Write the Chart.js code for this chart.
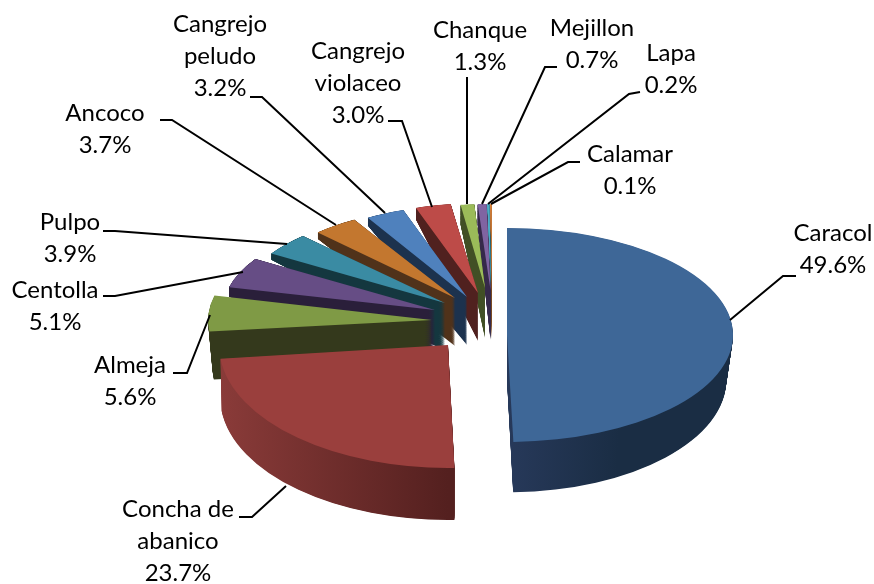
<!DOCTYPE html>
<html>
<head>
<meta charset="utf-8">
<title>Pie 3D</title>
<script src="https://cdn.jsdelivr.net/npm/chart.js@4"></script>
<style>
  html, body { margin: 0; padding: 0; background: #fff; }
  canvas { display: block; }
</style>
</head>
<body>
<canvas id="pieChart" width="874" height="584"></canvas>
<script>
// data
const categories = ["Caracol", "Concha de abanico", "Almeja", "Centolla", "Pulpo", "Ancoco",
    "Cangrejo peludo", "Cangrejo violaceo", "Chanque", "Mejillon", "Lapa", "Calamar"];
const values = [49.6, 23.7, 5.6, 5.1, 3.9, 3.7, 3.2, 3.0, 1.3, 0.7, 0.2, 0.1];

const topColors = ["#3E6797", "#9A3F3D", "#7F9A45", "#664D85", "#3A8BA3", "#C3772F",
    "#4F81BD", "#BD4B48", "#9BBB59", "#8064A2", "#4BACC6", "#F79646"];
const sideColors = [["#27395A", "#1A2D44"], ["#8A3B39", "#54201F"], ["#34391C", "#34391C"], ["#2A1F3A", "#2A1F3A"],
    ["#14373F", "#14373F"], ["#50321A", "#50321A"], ["#1C324E", "#1C324E"], ["#50211F", "#50211F"],
    ["#414F25", "#414F25"], ["#36294A", "#36294A"], ["#1E4A55", "#1E4A55"], ["#7A4A22", "#7A4A22"]];

// how the 3D view is faked: shift from chart centre, radii, depth and how depth changes over the slice
//                 dx, dy,  rx,  ry,  d,  kx,  ky, shrink, gradient from/to (in radius units)
const sliceView = [
    [ 70, 43, 226, 107, 45, 0, 0.05, 0.97, 0, 0.5],
    [ 11, 53, 229, 123, 52, 0, 0, 0.995, -1, 0],
    [ -5, 28, 224, 103, 48, 0, 0, 0.98, -1, 1],
    [ -2, 18, 212, 96, 48, 0.15, 0.32, 1, -1, 1],
    [  8, 11, 205, 93, 48, 0.15, 0.32, 1, -1, 1],
    [ 18,  6, 198, 91, 48, 0.15, 0.32, 1, -1, 1],
    [ 30,  5, 195, 92, 48, 0.15, 0.32, 1, -1, 1],
    [ 41,  1, 190, 90, 48, 0.15, 0.32, 1, -1, 1],
    [ 48, -4, 170, 84, 50, 0.15, 0.32, 1, -1, 1],
    [ 53.5, -2, 204, 86, 50, 0.15, 0.32, 1, -1, 1],
    [ 54, -2, 220, 86, 50, 0.15, 0.32, 1, -1, 1],
    [ 54.6, -2, 220, 86, 50, 0.15, 0.32, 1, -1, 1]
];

// label text centre + line pitch, then the leader line
const labelLines = [["Caracol"], ["Concha de", "abanico"], ["Almeja"], ["Centolla"], ["Pulpo"], ["Ancoco"],
    ["Cangrejo", "peludo"], ["Cangrejo", "violaceo"], ["Chanque"], ["Mejillon"], ["Lapa"], ["Calamar"]];
const labelCentres = [[833, 233], [178, 509], [130, 365], [55, 290], [70, 222], [105, 113],
    [220, 24], [358, 51], [480, 30], [592, 28], [671, 53], [630, 154]];
const leaders = [
    [[730, 320], [783, 276], [796, 276]],
    [[286, 486], [252, 517], [239, 517]],
    [[210, 315], [187, 373], [173, 373]],
    [[243, 272], [115, 296], [103, 296]],
    [[287, 244], [115, 231], [103, 231]],
    [[336, 225], [172, 120], [160, 120]],
    [[385, 213], [262, 97], [250, 97]],
    [[432, 207], [402, 121], [388, 121]],
    [[467, 204], [467, 77]],
    [[482, 204], [545, 67], [557, 67]],
    [[488, 204], [629, 94], [640, 92]],
    [[491, 204], [568, 162], [580, 162]]
];

function withView(ctx, arc, view, t, fill) {
    const R = arc.outerRadius;
    const [dx, dy, rx, ry, d, kx, ky, shrink] = view;
    const sx = rx / R * (1 - (1 - shrink) * t);
    const sy = ry / R;
    ctx.save();
    ctx.translate(arc.x + dx, arc.y + dy + d * t);
    ctx.transform(sx, kx * t * sx, 0, sy * (1 + ky * t), 0, 0);
    ctx.translate(-arc.x, -arc.y);
    const piece = Object.create(arc, {
        options: { value: Object.assign({}, arc.options, { backgroundColor: fill, borderWidth: 0 }) }
    });
    piece.draw(ctx);
    ctx.restore();
}

const pie3d = {
    id: "pie3d",
    beforeDatasetDraw(chart) {
        const ctx = chart.ctx;
        const arcs = chart.getDatasetMeta(0).data;
        // back slices first, the two big ones last
        for (let i = arcs.length - 1; i >= 0; i--) {
            const arc = arcs[i];
            const view = sliceView[i];
            const R = arc.outerRadius;
            const grad = ctx.createLinearGradient(arc.x + view[8] * R, 0, arc.x + view[9] * R, 0);
            grad.addColorStop(0, sideColors[i][0]);
            grad.addColorStop(1, sideColors[i][1]);
            const steps = Math.ceil(view[4] * 1.5);
            for (let s = steps; s > 0; s--) {
                withView(ctx, arc, view, s / steps, grad);
            }
            withView(ctx, arc, view, 0, topColors[i]);
        }
        return false;
    },
    afterDraw(chart) {
        const ctx = chart.ctx;
        ctx.save();
        ctx.strokeStyle = "#000";
        ctx.lineWidth = 2;
        leaders.forEach(pts => {
            ctx.beginPath();
            pts.forEach((p, k) => k ? ctx.lineTo(p[0], p[1]) : ctx.moveTo(p[0], p[1]));
            ctx.stroke();
        });
        ctx.fillStyle = "#000";
        ctx.font = "24px Lato";
        ctx.textAlign = "center";
        ctx.textBaseline = "middle";
        categories.forEach((c, i) => {
            const lines = labelLines[i].concat(values[i].toFixed(1) + "%");
            lines.forEach((txt, k) => {
                ctx.fillText(txt, labelCentres[i][0], labelCentres[i][1] + k * 32);
            });
        });
        ctx.restore();
    }
};

new Chart(document.getElementById("pieChart"), {
    type: "pie",
    data: {
        labels: categories,
        datasets: [{ data: values, backgroundColor: topColors, borderWidth: 0 }]
    },
    options: {
        responsive: false,
        animation: false,
        radius: 100,
        rotation: 0,
        plugins: { legend: { display: false }, tooltip: { enabled: false } }
    },
    plugins: [pie3d]
});
</script>
</body>
</html>
